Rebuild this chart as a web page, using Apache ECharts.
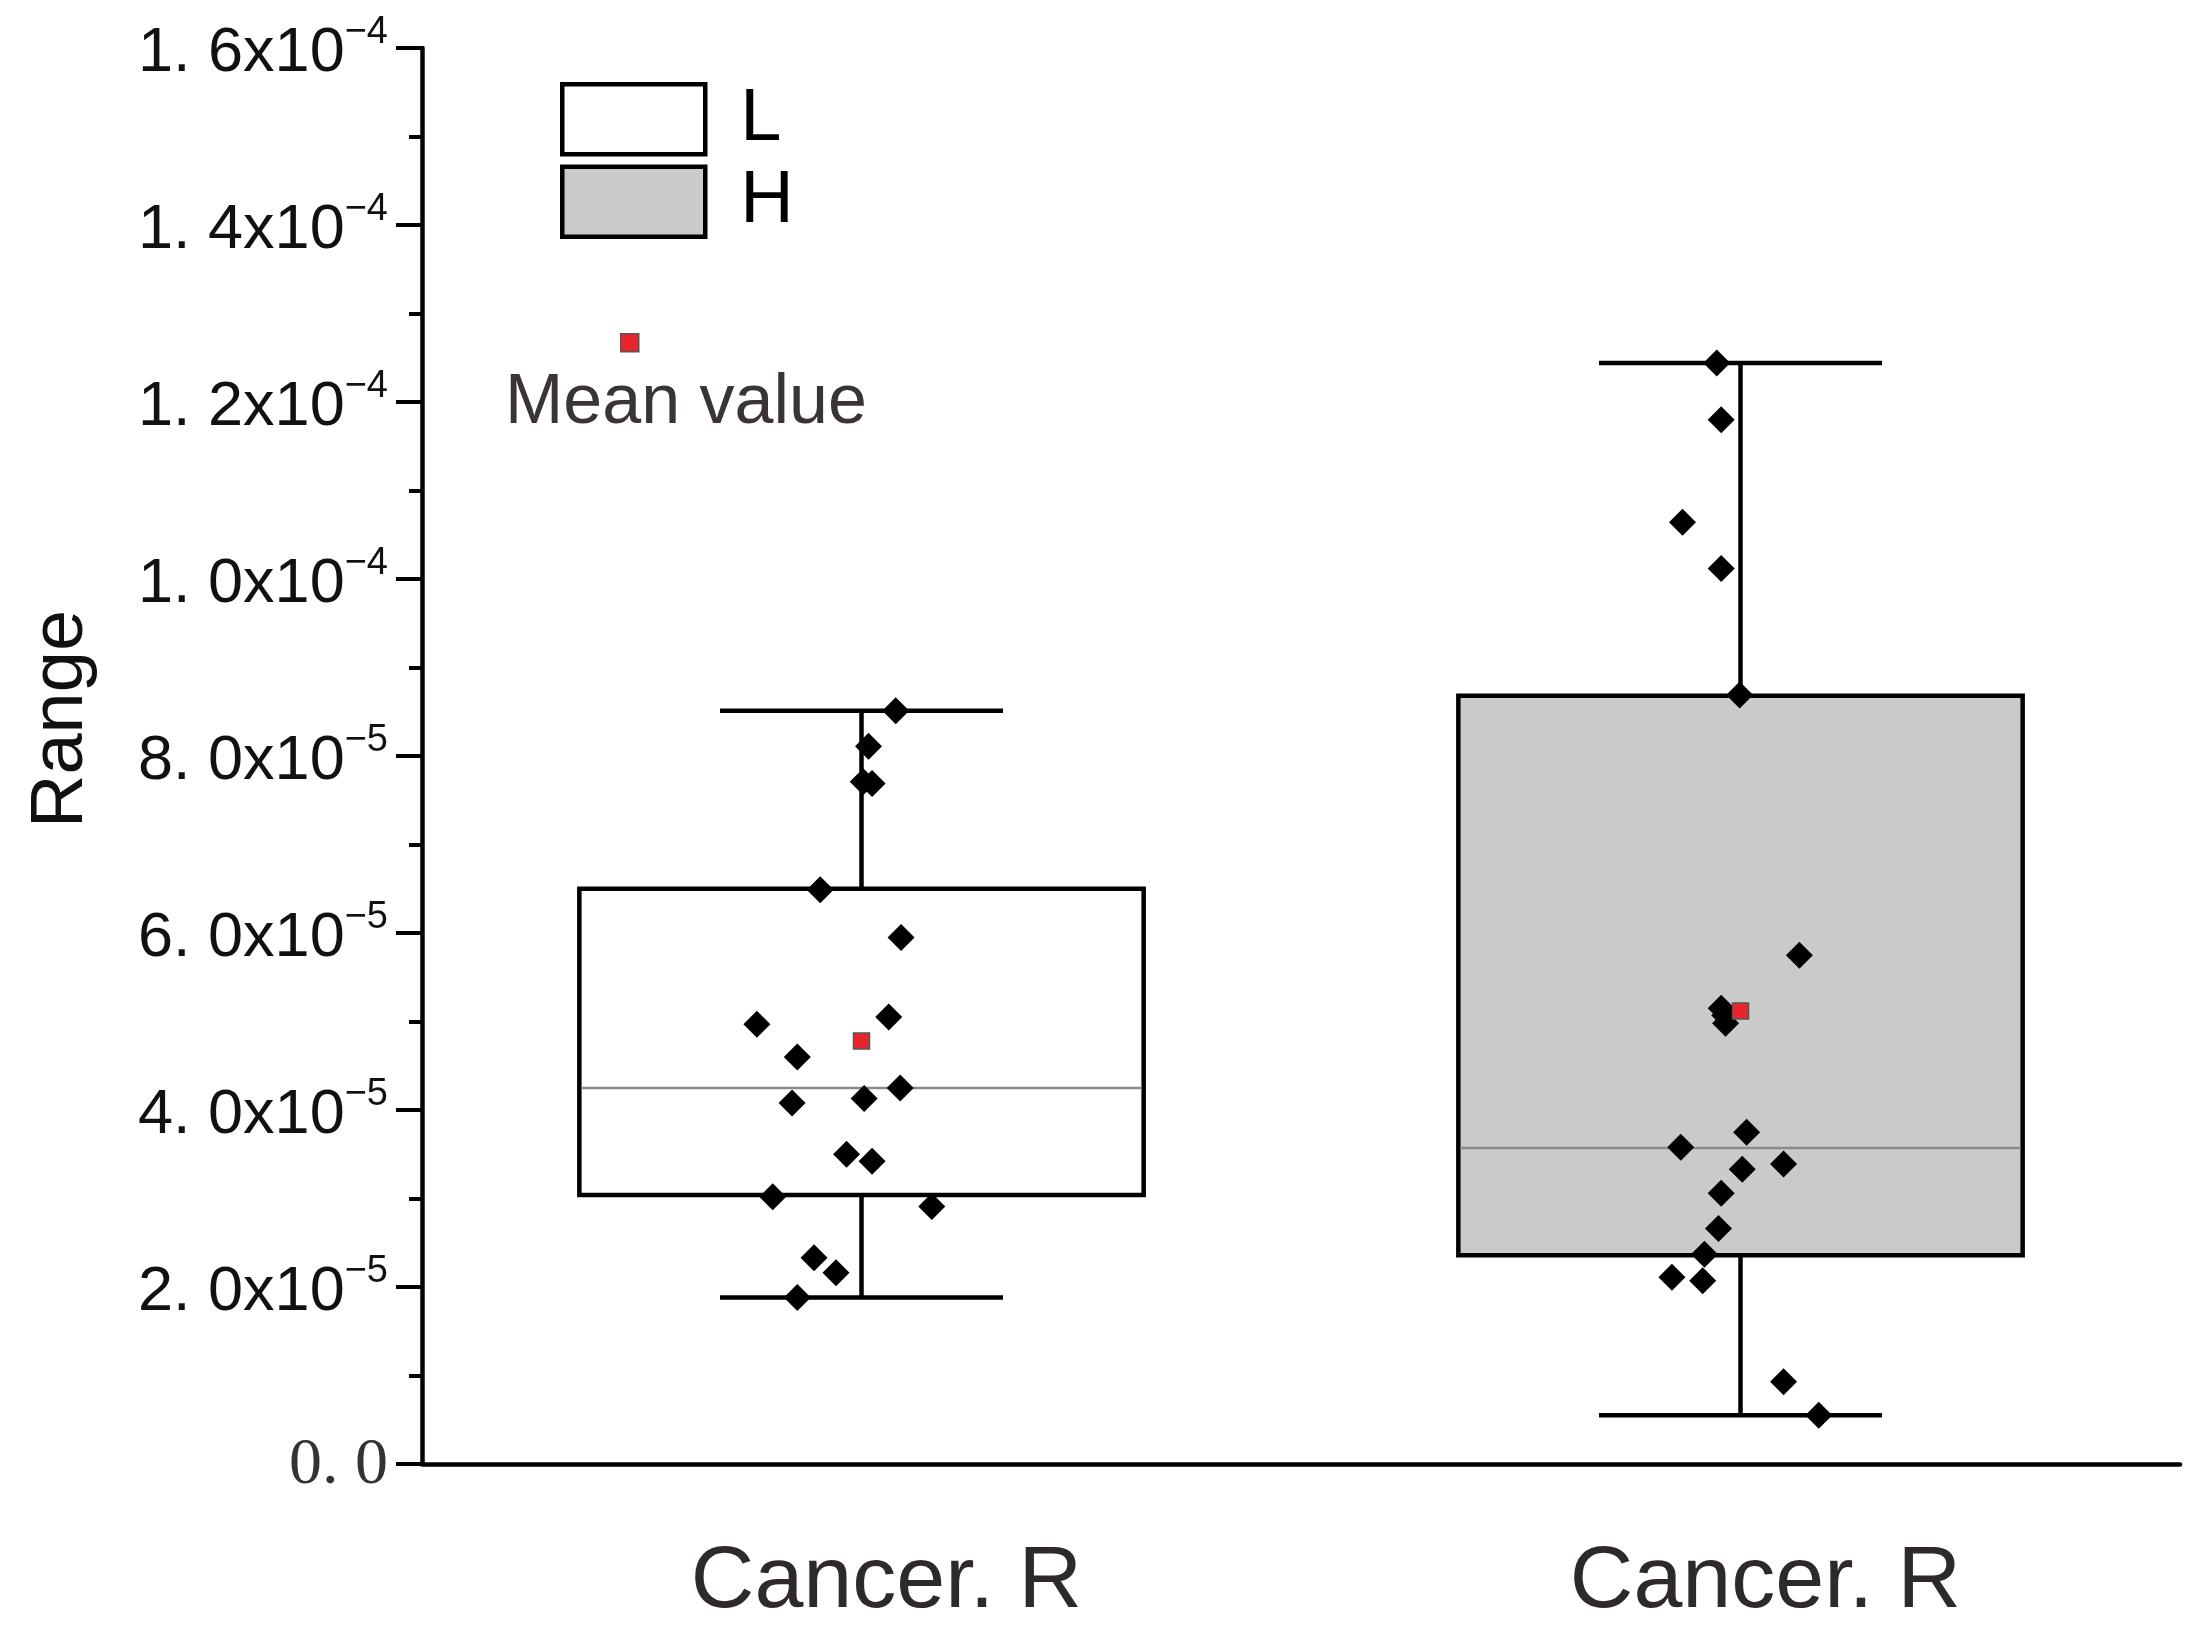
<!DOCTYPE html>
<html>
<head>
<meta charset="utf-8">
<title>Range - Cancer. R</title>
<script src="https://cdn.jsdelivr.net/npm/echarts/dist/echarts.min.js"></script>
<style>
  html, body { margin: 0; padding: 0; background: #fff; }
  #main { width: 2208px; height: 1638px; }
</style>
</head>
<body>
<div id="main"></div>
<script>
var categories = ['Cancer. R', 'Cancer. R'];
var groups = ['L', 'H'];
var boxFills = ['#ffffff', '#c9cac9'];

// [min, Q1, median, Q3, max]
var boxL = [1.88e-5, 3.04e-5, 4.25e-5, 6.50e-5, 8.51e-5];
var boxH = [0.55e-5, 2.36e-5, 3.57e-5, 8.68e-5, 12.44e-5];
var meanL = 4.78e-5;
var meanH = 5.12e-5;

// raw points and their horizontal jitter (fraction of category width)
var pointsL = [8.51e-5, 8.11e-5, 7.71e-5, 7.69e-5, 6.49e-5, 5.95e-5, 4.97e-5, 5.05e-5, 4.60e-5, 4.25e-5,
               4.08e-5, 4.13e-5, 3.50e-5, 3.42e-5, 3.02e-5, 2.91e-5, 2.33e-5, 2.16e-5, 1.88e-5];
var jitterL = [0.039, 0.008, 0.002, 0.012, -0.047, 0.045, -0.119, 0.031, -0.073, 0.044,
               -0.079, 0.003, -0.017, 0.012, -0.101, 0.080, -0.054, -0.029, -0.073];
var pointsH = [12.44e-5, 11.80e-5, 10.64e-5, 10.12e-5, 8.69e-5, 5.75e-5, 5.15e-5, 5.07e-5, 4.98e-5, 3.75e-5,
               3.58e-5, 3.39e-5, 3.33e-5, 3.06e-5, 2.66e-5, 2.37e-5, 2.11e-5, 2.07e-5, 0.93e-5, 0.55e-5];
var jitterH = [-0.027, -0.022, -0.066, -0.022, -0.001, 0.067, -0.022, -0.018, -0.017, 0.007,
               -0.068, 0.049, 0.002, -0.022, -0.025, -0.041, -0.078, -0.043, 0.049, 0.089];

var tickMantissa = ['0. 0', '2. 0', '4. 0', '6. 0', '8. 0', '1. 0', '1. 2', '1. 4', '1. 6'];
var tickExponent = ['', '\u22125', '\u22125', '\u22125', '\u22125', '\u22124', '\u22124', '\u22124', '\u22124'];

var sans = "'Liberation Sans', Arial, sans-serif";

function jittered(idx, values, offsets) {
  var out = [];
  for (var i = 0; i < values.length; i++) {
    out.push([idx + offsets[i], values[i]]);
  }
  return out;
}

function renderBox(fill) {
  return function (params, api) {
    var x = api.value(0);
    var pLow = api.coord([x, api.value(1)]);
    var pQ1 = api.coord([x, api.value(2)]);
    var pMed = api.coord([x, api.value(3)]);
    var pQ3 = api.coord([x, api.value(4)]);
    var pHigh = api.coord([x, api.value(5)]);
    var band = api.size([1, 0])[0];
    var half = band * 0.321;
    var cap = band * 0.161;
    var cx = pMed[0];
    function ln() { return { stroke: '#000', lineWidth: 4.5 }; }
    return {
      type: 'group',
      children: [
        { type: 'line', shape: { x1: cx, y1: pHigh[1], x2: cx, y2: pQ3[1] }, style: ln() },
        { type: 'line', shape: { x1: cx, y1: pQ1[1], x2: cx, y2: pLow[1] }, style: ln() },
        { type: 'line', shape: { x1: cx - cap, y1: pHigh[1], x2: cx + cap, y2: pHigh[1] }, style: ln() },
        { type: 'line', shape: { x1: cx - cap, y1: pLow[1], x2: cx + cap, y2: pLow[1] }, style: ln() },
        { type: 'rect', shape: { x: cx - half, y: pQ3[1], width: half * 2, height: pQ1[1] - pQ3[1] },
          style: { fill: fill, stroke: '#000', lineWidth: 4.5 } },
        { type: 'line', shape: { x1: cx - half + 2, y1: pMed[1], x2: cx + half - 2, y2: pMed[1] },
          style: { stroke: '#8a8a8a', lineWidth: 2.5 } }
      ]
    };
  };
}

var chart = echarts.init(document.getElementById('main'));

var option = {
  animation: false,
  backgroundColor: '#fff',
  grid: { left: 422, right: 28, top: 48, bottom: 174, containLabel: false, outerBoundsMode: 'none' },
  legend: {
    data: [
      { name: 'L', icon: 'rect', itemStyle: { color: boxFills[0], borderColor: '#000', borderWidth: 4.5 } },
      { name: 'H', icon: 'rect', itemStyle: { color: boxFills[1], borderColor: '#000', borderWidth: 4.5 } }
    ],
    orient: 'vertical',
    left: 555,
    top: 77,
    itemWidth: 143,
    itemHeight: 70,
    itemGap: 8,
    selectedMode: false,
    textStyle: { fontSize: 74, lineHeight: 70, color: '#000', fontFamily: sans, padding: [0, 0, 0, 30] }
  },
  graphic: [
    { type: 'rect', left: 620, top: 333, shape: { width: 18, height: 18 },
      style: { fill: '#e8242c', stroke: '#555', lineWidth: 1.5 } },
    { type: 'text', left: 505, top: 369,
      style: { text: 'Mean value', fontSize: 70, fill: '#3a3434', fontFamily: sans } }
  ],
  xAxis: [
    {
      type: 'category',
      data: categories,
      boundaryGap: true,
      axisLine: { lineStyle: { color: '#000', width: 4.5 } },
      axisTick: { alignWithLabel: true, length: 26, lineStyle: { color: '#000', width: 4 } },
      axisLabel: { fontSize: 88, color: '#2f2a2a', fontFamily: sans, margin: 75, padding: [0, 0, 0, 50] },
      splitLine: { show: false }
    },
    { type: 'value', min: -0.5, max: 1.5, show: false }
  ],
  yAxis: {
    type: 'value',
    min: 0,
    max: 1.6e-4,
    interval: 2e-5,
    name: 'Range',
    nameLocation: 'middle',
    nameRotate: 90,
    nameGap: 323,
    nameTextStyle: { fontSize: 74, color: '#111', fontFamily: sans, padding: [0, 0, 0, 74] },
    axisLine: { show: true, onZero: false, lineStyle: { color: '#000', width: 4.5 } },
    axisTick: { show: true, length: 26, lineStyle: { color: '#000', width: 4 } },
    minorTick: { show: true, splitNumber: 2, length: 13, lineStyle: { color: '#000', width: 4 } },
    splitLine: { show: false },
    axisLabel: {
      margin: 34,
      formatter: function (v) {
        var i = Math.round(v / 2e-5);
        if (!tickExponent[i]) return '{z|' + tickMantissa[i] + '}';
        return '{m|' + tickMantissa[i] + 'x10}{e|' + tickExponent[i] + '}';
      },
      rich: {
        m: { fontSize: 63, fontFamily: sans, color: '#111', lineHeight: 68, padding: [12, 0, 0, 0] },
        e: { fontSize: 38, fontFamily: sans, color: '#111', lineHeight: 38, verticalAlign: 'top' },
        z: { fontSize: 66, fontFamily: "'Liberation Serif', serif", color: '#333', padding: [4, 0, 0, 0] }
      }
    }
  },
  series: [
    {
      name: groups[0], type: 'custom', xAxisIndex: 0, z: 2,
      renderItem: renderBox(boxFills[0]),
      encode: { x: 0, y: [1, 2, 3, 4, 5] },
      data: [[0].concat(boxL)]
    },
    {
      name: groups[1], type: 'custom', xAxisIndex: 0, z: 2,
      renderItem: renderBox(boxFills[1]),
      encode: { x: 0, y: [1, 2, 3, 4, 5] },
      data: [[1].concat(boxH)]
    },
    {
      name: 'points', type: 'scatter', xAxisIndex: 1, z: 4,
      symbol: 'diamond', symbolSize: 27,
      itemStyle: { color: '#000', opacity: 1 },
      data: jittered(0, pointsL, jitterL).concat(jittered(1, pointsH, jitterH))
    },
    {
      name: 'Mean value', type: 'scatter', xAxisIndex: 1, z: 5,
      symbol: 'rect', symbolSize: 16,
      itemStyle: { color: '#e8242c', borderColor: '#555', borderWidth: 1.5, opacity: 1 },
      data: [[0, meanL], [1, meanH]]
    }
  ]
};

chart.setOption(option);

window.addEventListener('resize', function () {
  setTimeout(function () { chart.resize(); }, 200);
});
</script>
</body>
</html>
